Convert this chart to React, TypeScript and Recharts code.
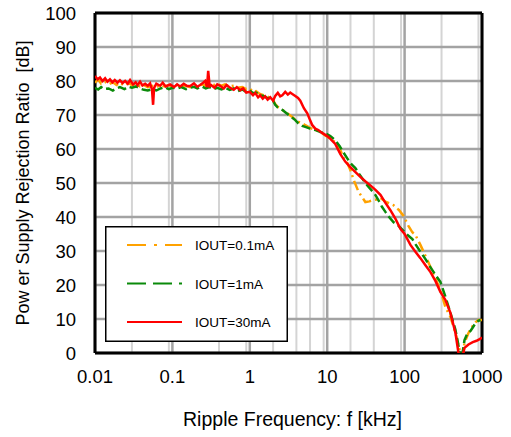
import React from "react";
import {
  LineChart,
  Line,
  XAxis,
  YAxis,
  CartesianGrid,
  Legend,
} from "recharts";

// ripple frequency [kHz] / PSRR [dB]
const redFreq = [
  0.01, 0.0108, 0.0116, 0.0125, 0.0135, 0.0145, 0.0156, 0.0168, 0.018, 0.0195,
  0.021, 0.0227, 0.0245, 0.0265, 0.0284, 0.031, 0.0335, 0.0355, 0.0382, 0.041,
  0.0445, 0.048, 0.0515, 0.0545, 0.0563, 0.058, 0.062, 0.0694, 0.075, 0.082,
  0.0934, 0.105, 0.115, 0.126, 0.14, 0.155, 0.17, 0.19, 0.21, 0.228, 0.25,
  0.265, 0.28, 0.29, 0.303, 0.316, 0.35, 0.38, 0.414, 0.46, 0.5, 0.557, 0.62,
  0.68, 0.75, 0.82, 0.9, 1.0, 1.1, 1.175, 1.28, 1.36, 1.47, 1.58, 1.7, 1.84,
  2.0, 2.13, 2.3, 2.47, 2.63, 2.87, 3.1, 3.33, 3.54, 3.87, 4.2, 4.49, 5.0,
  5.53, 6.0, 6.42, 7.02, 7.67, 8.5, 10, 11, 12.7, 14.8, 17.1, 19.9, 23, 26.8,
  31, 36.1, 42, 48.7, 56, 65.5, 76, 88.3, 100, 119, 138, 160, 186, 216, 250,
  290, 337, 391, 454, 497, 525, 560, 594, 669, 760, 850, 957, 1000,
];
const redDb = [
  81.5, 80.5, 81, 80, 80.8, 79.8, 80.5, 79.6, 80.3, 79.5,
  80.2, 79.4, 80, 79.2, 80.3, 79, 79.6, 78.8, 79.8, 78.7,
  79.2, 78.6, 79.3, 77.5, 73, 78, 79.2, 78.6, 79.5, 78.4,
  79, 78.2, 79, 78.4, 79.2, 78.5, 78.5, 79.3, 78.3, 78.8, 79.5,
  80, 78.2, 83, 78.5, 78.8, 78, 79, 78.6, 77.8, 78.8, 78, 77.4,
  78.2, 77.3, 77.8, 76.6, 76.8, 75.8, 76.5, 75.2, 75.8, 74.8, 75.5, 74.5, 75.2,
  74.2, 75.6, 76.5, 75.5, 75.8, 76.8, 76, 76.6, 76.2, 75.6, 75, 74.2, 72,
  70.5, 68.5, 67, 66, 65.6, 64.8, 63.8, 63, 61.5, 58.5, 56.3, 54.7, 53.3, 51.8,
  50.5, 49.3, 48, 46.5, 44.3, 42, 39.5, 36.5, 35, 31.8, 29.8, 27.9, 25.8, 23.8, 21.2,
  18, 15.6, 11.8, 5.9, 0, -4, -1, 1.5, 2.5, 3.2, 3.6, 4.2, 4.6,
];

const greenFreq = [
  0.01, 0.011, 0.012, 0.013, 0.015, 0.017, 0.019, 0.021, 0.024, 0.027, 0.03,
  0.034, 0.038, 0.043, 0.048, 0.055, 0.062, 0.07, 0.08, 0.09, 0.1, 0.115, 0.13,
  0.15, 0.17, 0.19, 0.21, 0.24, 0.27, 0.3, 0.34, 0.38, 0.43, 0.48, 0.55, 0.62,
  0.7, 0.8, 0.9, 1.0, 1.1, 1.2, 1.35, 1.5, 1.7, 1.84, 2.0, 2.13, 2.3, 2.47,
  2.63, 2.87, 3.1, 3.54, 3.87, 4.2, 4.76, 5.21, 6, 7.02, 8.15, 9.45, 10.96,
  12.7, 14.5, 16.2, 18.7, 21, 23.1, 26, 29.3, 33, 38.3, 41.9, 45.8, 51, 56.5,
  63, 71.6, 82, 96, 102, 112, 126, 138, 160, 186, 216, 250, 290, 337, 391, 454,
  500, 527, 560, 594, 640, 710, 760, 824, 900, 957,
];
const greenDb = [
  78, 77.5, 78.2, 77.6, 77.8, 77.2, 77.8, 78.2, 77.6, 78.3, 78,
  78.4, 77.8, 77.4, 77.2, 77.6, 77.2, 77.8, 78.2, 77.6, 78, 77.8, 78.2,
  77.6, 78, 78.3, 77.8, 78.4, 77.8, 78.2, 77.6, 78, 77.5, 78, 77.4, 77.8,
  77, 77.5, 76.8, 77.2, 76.4, 76.6, 75.8, 75.6, 75, 74.8, 74.2, 73, 72.2, 71.8,
  71.5, 70.8, 70.2, 69.2, 68.5, 67.6, 66.8, 66.5, 66, 65.6, 65, 64.6, 63.8,
  62.6, 60.8, 59, 56.8, 55.3, 54.4, 52.6, 50.9, 49.3, 47.6, 46.5, 45, 43, 41.5,
  40, 38.5, 37.6, 36, 35.3, 34.5, 33.5, 32, 29.8, 27.6, 25.2, 23, 20.9, 16.5, 11.8, 6.8,
  1.8, -2, 0, 3.8, 5.5, 6.5, 7.5, 8.8, 9.5, 9.7,
];

const orangeFreq = [
  0.01, 0.011, 0.012, 0.0135, 0.015, 0.017, 0.019, 0.021, 0.024, 0.027, 0.03,
  0.034, 0.038, 0.043, 0.048, 0.055, 0.062, 0.07, 0.08, 0.09, 0.1, 0.115, 0.13,
  0.15, 0.17, 0.19, 0.21, 0.24, 0.27, 0.3, 0.34, 0.38, 0.43, 0.48, 0.55, 0.62,
  0.7, 0.8, 0.9, 1.0, 1.1, 1.2, 1.35, 1.5, 1.7, 1.84, 2.0, 2.13, 2.3, 2.47,
  2.63, 2.87, 3.1, 3.54, 3.87, 4.2, 4.76, 5.21, 6, 7.02, 8.15, 9.45, 10.96,
  12.7, 14.8, 16.2, 18.2, 19.9, 22, 25.3, 28, 31.1, 35, 39.5, 45, 48.7, 56.5,
  71.6, 85, 96.4, 112, 126, 138, 160, 216, 290, 337, 391, 454, 527, 560, 594,
  669, 760, 824, 900, 1000,
];
const orangeDb = [
  79.5, 80.5, 79.2, 79.8, 79, 79.6, 78.8, 79.5, 78.6, 79.4, 78.8,
  79.2, 78.4, 78.8, 78.2, 78.6, 78.2, 78.8, 78.4, 78.8, 78.4, 78.8, 78.5,
  78.6, 78.2, 78.8, 78.4, 79, 78.6, 79.2, 78.8, 79.2, 78.6, 79, 78.4, 78.6,
  78, 78.2, 77.6, 77.8, 76.8, 77, 76.2, 75.8, 75.4, 75, 74.4, 73.2, 72.4, 72,
  71.5, 71, 70.4, 69.4, 68.6, 68, 67.6, 67, 66.2, 65.6, 65, 64, 63,
  62, 59.7, 57.4, 55.9, 53.8, 50.9, 47.5, 46, 44.4, 44.6, 45, 45.2, 45.6, 44.5,
  43.5, 42, 40.4, 37.4, 35.5, 34.7, 31.8, 25.3, 18.5, 13.5, 10.6, 5.9, 0, -1, 3,
  5.9, 8, 9, 9.7, 9.7,
];

const xTicks = [0.01, 0.1, 1, 10, 100, 1000];
const yTicks = [0, 10, 20, 30, 40, 50, 60, 70, 80, 90, 100];
const minorMultipliers = [2, 3, 4, 5, 6, 7, 8, 9];

const series = [
  { name: "IOUT=0.1mA", color: "#FFA200", dash: "10 4 2 4", legendDash: "19 8 3 8" },
  { name: "IOUT=1mA", color: "#0A8A0A", dash: "9 4", legendDash: "19 7" },
  { name: "IOUT=30mA", color: "#FF0000", dash: undefined, legendDash: undefined },
];

const toPoints = (freq: number[], db: number[]) =>
  freq.map((f, i) => ({ f, v: db[i] }));

const seriesData = [
  toPoints(orangeFreq, orangeDb),
  toPoints(greenFreq, greenDb),
  toPoints(redFreq, redDb),
];

const minorTicks = xTicks
  .slice(0, -1)
  .flatMap((d) => minorMultipliers.map((m) => d * m));

const LegendBox = () => (
  <svg width={183} height={116} style={{ display: "block" }}>
    <rect x={0.75} y={0.75} width={181.5} height={114.5} fill="#fff" stroke="#000" strokeWidth={1.5} />
    {series.map((s, i) => {
      const y = 19 + i * 38.5;
      return (
        <g key={s.name}>
          <line
            x1={22}
            x2={77}
            y1={y}
            y2={y}
            stroke={s.color}
            strokeWidth={2}
            strokeDasharray={s.legendDash}
          />
          <text x={90} y={y + 5} fontSize={13.5} fill="#000">
            {s.name}
          </text>
        </g>
      );
    })}
  </svg>
);

export default function App() {
  return (
    <div
      style={{
        position: "absolute",
        left: 0,
        top: 0,
        width: 511,
        height: 437,
        background: "#fff",
        fontFamily: "'Liberation Sans', Arial, sans-serif",
      }}>
      <LineChart
        width={511}
        height={437}
        margin={{ top: 13, right: 29, left: 0, bottom: 0 }}>
        <CartesianGrid
          stroke="#d4d4d4"
          strokeWidth={2}
          horizontal={false}
          verticalValues={minorTicks}
        />
        <CartesianGrid
          stroke="#a3a3a3"
          strokeWidth={2.5}
          horizontalValues={yTicks}
          verticalValues={xTicks}
        />
        <CartesianGrid
          stroke="#000"
          strokeWidth={3}
          horizontalValues={[0, 100]}
          verticalValues={[0.01, 1000]}
        />
        <XAxis
          dataKey="f"
          type="number"
          scale="log"
          domain={[0.01, 1000]}
          ticks={xTicks}
          allowDataOverflow
          axisLine={false}
          tickLine={false}
          tickSize={0}
          tickMargin={17}
          height={84}
          tick={{ fontSize: 18.5, fill: "#000" }}
          label={{
            value: "Ripple Frequency: f [kHz]",
            position: "insideBottom",
            offset: 11,
            dx: 4,
            style: { fontSize: 19.5, fill: "#000" },
          }}
        />
        <YAxis
          type="number"
          domain={[0, 100]}
          ticks={yTicks}
          allowDataOverflow
          axisLine={false}
          tickLine={false}
          tickSize={0}
          tickMargin={19}
          width={95}
          tick={{ fontSize: 18.5, fill: "#000" }}
          label={{
            value: "Pow er Supply Rejection Ratio \u00A0[dB]",
            angle: -90,
            position: "center",
            dx: -25,
            style: { fontSize: 18, fill: "#000" },
          }}
        />
        <Legend
          layout="vertical"
          align="center"
          verticalAlign="middle"
          wrapperStyle={{ left: 105, top: 226, width: 183, height: 116 }}
          content={() => <LegendBox />}
        />
        {series.map((s, i) => (
          <Line
            key={s.name}
            data={seriesData[i]}
            dataKey="v"
            name={s.name}
            type="linear"
            stroke={s.color}
            strokeWidth={2.5}
            strokeDasharray={s.dash}
            dot={false}
            isAnimationActive={false}
          />
        ))}
      </LineChart>
    </div>
  );
}
